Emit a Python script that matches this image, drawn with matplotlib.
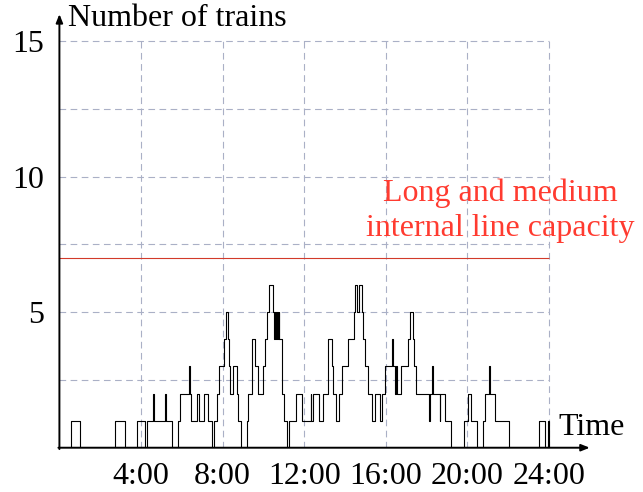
"""Number of trains on the line over a day, with the line capacity marked."""

import matplotlib

matplotlib.use("Agg")  # headless
import matplotlib.pyplot as plt

# Step changes of the train count (hour of day, count from that moment on)
change_hours = [
    0.00, 0.55, 1.02, 2.73, 3.22, 3.79, 4.20, 4.31, 4.59, 4.62,
    5.18, 5.21, 5.50, 5.81, 5.91, 6.35, 6.39, 6.45, 6.76, 6.86,
    7.10, 7.27, 7.47, 7.58, 7.74, 7.84, 8.08, 8.15, 8.25, 8.33,
    8.38, 8.52, 8.69, 8.77, 8.89, 9.21, 9.25, 9.43, 9.46, 9.59,
    9.75, 9.97, 10.08, 10.16, 10.29, 10.49, 10.54, 10.58, 10.63, 10.67,
    10.72, 10.75, 10.78, 10.90, 10.93, 11.01, 11.14, 11.25, 11.58, 11.88,
    12.31, 12.33, 12.41, 12.73, 12.94, 13.15, 13.18, 13.35, 13.43, 13.54,
    13.71, 13.87, 14.16, 14.46, 14.48, 14.57, 14.70, 14.82, 14.90, 14.98,
    15.11, 15.34, 15.47, 15.72, 15.83, 15.96, 16.32, 16.35, 16.45, 16.52,
    16.55, 16.75, 17.10, 17.19, 17.32, 17.40, 17.48, 18.14, 18.17, 18.29,
    18.32, 18.66, 18.68, 18.90, 19.18, 19.83, 20.04, 20.18, 20.46, 20.75,
    20.86, 21.06, 21.09, 21.35, 22.05, 23.51, 23.80, 23.93, 23.98, 24.00,
]
train_count = [
    0, 1, 0, 1, 0, 1, 0, 1, 2, 1,
    2, 1, 0, 1, 2, 3, 2, 1, 2, 1,
    2, 1, 0, 1, 2, 3, 4, 5, 4, 3,
    2, 3, 2, 1, 0, 1, 2, 3, 4, 3,
    2, 3, 4, 5, 6, 5, 4, 5, 4, 5,
    4, 5, 4, 3, 2, 1, 0, 1, 2, 1,
    2, 1, 2, 1, 2, 3, 4, 3, 2, 1,
    2, 3, 4, 5, 6, 5, 6, 5, 4, 3,
    2, 1, 2, 1, 2, 3, 4, 3, 2, 3,
    2, 3, 4, 5, 4, 3, 2, 1, 2, 3,
    2, 1, 2, 1, 0, 1, 2, 1, 0, 1,
    2, 3, 2, 1, 0, 1, 0, 1, 0, 0,
]

capacity = 7
capacity_label = ["Long and medium", "internal line capacity"]
x_ticks = [4, 8, 12, 16, 20, 24]
x_tick_labels = ["4:00", "8:00", "12:00", "16:00", "20:00", "24:00"]
y_ticks = [5, 10, 15]
y_grid = [2.5, 5, 7.5, 10, 12.5, 15]

plt.rcParams["font.family"] = ["Liberation Serif", "DejaVu Serif"]
FS = 23
GRID = "#aab0c6"

fig = plt.figure(figsize=(6.43, 4.92), dpi=100)
ax = fig.add_axes([0.0924, 0.09, 0.8248, 0.8813])
ax.set_xlim(0, 26)
ax.set_ylim(0, 16)
for s in ax.spines.values():
    s.set_visible(False)

# dashed grid, only inside 0..24 x 0..15
ax.vlines(x_ticks, 0, 15, colors=GRID, linewidth=0.8, linestyles=(0, (6, 4)), zorder=1)
ax.hlines(y_grid, 0, 24, colors=GRID, linewidth=0.8, linestyles=(0, (6, 4)), zorder=1)

# capacity line and its label
ax.hlines(capacity, 0, 24, colors="#d23a2a", linewidth=0.8, zorder=2)
ax.text(21.6, 9.1, capacity_label[0], color="#ff3b30", fontsize=FS,
        ha="center", va="baseline")
ax.text(21.6, 7.8, capacity_label[1], color="#ff3b30", fontsize=FS,
        ha="center", va="baseline")

ax.step(change_hours, train_count, where="post", color="black", linewidth=0.8, zorder=3)

# axis lines with arrow heads
arrow = dict(arrowstyle="-|>,head_length=0.5,head_width=0.2", color="black",
             linewidth=1.4, shrinkA=0, shrinkB=0)
ax.annotate("", xy=(26, 0), xytext=(-0.05, 0), arrowprops=arrow, annotation_clip=False)
ax.annotate("", xy=(0, 16), xytext=(0, -0.05), arrowprops=arrow, annotation_clip=False)

ax.set_xticks(x_ticks)
ax.set_xticklabels(x_tick_labels)
ax.set_yticks(y_ticks)
ax.tick_params(length=0, labelsize=FS)
ax.tick_params(axis="x", pad=10)
ax.tick_params(axis="y", pad=11)

ax.text(0.4, 15.55, "Number of trains", fontsize=FS, ha="left", va="baseline")
ax.text(24.44, 0.47, "Time", fontsize=FS, ha="left", va="baseline")

fig.savefig("out.png", dpi=100)
plt.close(fig)
